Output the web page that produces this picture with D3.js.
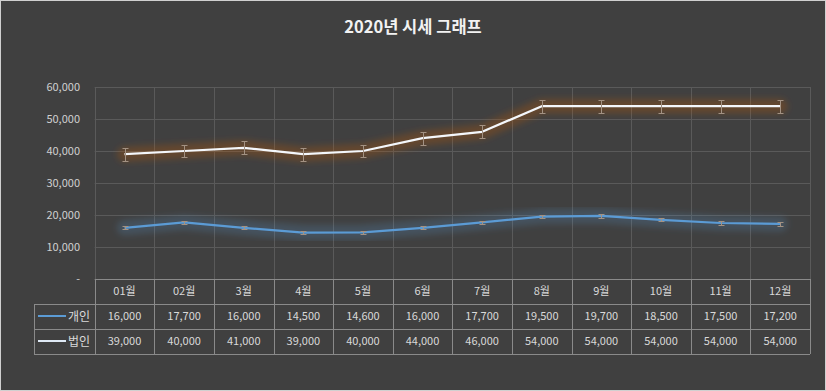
<!DOCTYPE html>
<html>
    <head>
        <meta charset="UTF-8">
        <title>2020년 시세 그래프</title>
        <script src="https://d3js.org/d3.v7.min.js"></script>
        <style>
            body {
                margin: 0;
                padding: 0;
                background: #404040;
            }
            svg { display: block; }
            text { font-family: "Noto Sans CJK KR", "Noto Sans", sans-serif; }
        </style>
    </head>
    <body>
        <div id="chart"></div>
        <script>
            // chart data
            var months = ["01월", "02월", "3월", "4월", "5월", "6월", "7월", "8월", "9월", "10월", "11월", "12월"];
            var personal = [16000, 17700, 16000, 14500, 14600, 16000, 17700, 19500, 19700, 18500, 17500, 17200];
            var corporate = [39000, 40000, 41000, 39000, 40000, 44000, 46000, 54000, 54000, 54000, 54000, 54000];
            var seriesNames = ["개인", "법인"];
            var yTicks = [0, 10000, 20000, 30000, 40000, 50000, 60000];

            var svgWidth = 826, svgHeight = 391;
            var margin = { top: 87, right: 16, bottom: 112, left: 94.7 };

            var svg = d3.select('#chart').append('svg')
                .attr('width', svgWidth)
                .attr('height', svgHeight);

            svg.append('rect')
                .attr('x', 0.5).attr('y', 0.5)
                .attr('width', svgWidth - 1).attr('height', svgHeight - 1)
                .attr('fill', '#404040')
                .attr('stroke', '#d0d0d0');

            // glow filter
            var defs = svg.append('defs');
            var glow = defs.append('filter').attr('id', 'glow')
                .attr('x', '-10%').attr('y', '-50%').attr('width', '120%').attr('height', '200%');
            glow.append('feGaussianBlur').attr('stdDeviation', 3);

            svg.append('text')
                .attr('x', 413).attr('y', 33)
                .attr('text-anchor', 'middle')
                .attr('fill', '#f2f2f2')
                .attr('font-size', 16.5)
                .attr('font-weight', 'bold')
                .text('2020년 시세 그래프');

            var x = d3.scaleBand().domain(months).range([margin.left, svgWidth - margin.right]);
            var y = d3.scaleLinear().domain([0, 60000]).range([svgHeight - margin.bottom, margin.top]);

            // gridlines
            var grid = svg.append('g').attr('stroke', '#5a5a5a').attr('stroke-width', 1);
            grid.selectAll('line.h')
                .data(yTicks.filter(d => d > 0))
                .join('line')
                .attr('x1', x.range()[0]).attr('x2', x.range()[1])
                .attr('y1', d => Math.round(y(d)) + 0.5).attr('y2', d => Math.round(y(d)) + 0.5);
            grid.selectAll('line.v')
                .data(months.concat(['end']))
                .join('line')
                .attr('x1', (d, i) => Math.round(x.range()[0] + i * x.bandwidth()) + 0.5)
                .attr('x2', (d, i) => Math.round(x.range()[0] + i * x.bandwidth()) + 0.5)
                .attr('y1', y(60000)).attr('y2', y(0));

            // y axis
            var yAxis = svg.append('g')
                .attr('transform', 'translate(80,0)')
                .call(d3.axisLeft(y).tickValues(yTicks).tickSize(0).tickPadding(0)
                    .tickFormat(d => d === 0 ? '-' : d3.format(',')(d)));
            yAxis.select('.domain').remove();
            yAxis.selectAll('text')
                .attr('fill', '#d0d0d0')
                .attr('font-size', 11)
                .style('font-family', '"Noto Sans CJK KR", sans-serif');

            var cx = d => x(d) + x.bandwidth() / 2;
            var series = [
                { name: seriesNames[0], values: personal, color: '#5b9bd5', glow: '#5b9bd5', glowOpacity: 0.2 },
                { name: seriesNames[1], values: corporate, color: '#f4f7fb', glow: '#c55a11', glowOpacity: 0.27 }
            ];

            var line = d3.line()
                .x((d, i) => cx(months[i]))
                .y(d => y(d));

            series.forEach(s => {
                svg.append('path')
                    .datum(s.values)
                    .attr('d', line)
                    .attr('fill', 'none')
                    .attr('stroke', s.glow)
                    .attr('stroke-opacity', s.glowOpacity)
                    .attr('stroke-width', 15)
                    .attr('stroke-linecap', 'round')
                    .attr('stroke-linejoin', 'round')
                    .attr('filter', 'url(#glow)');
            });

            series.forEach(s => {
                svg.append('path')
                    .datum(s.values)
                    .attr('d', line)
                    .attr('fill', 'none')
                    .attr('stroke', s.color)
                    .attr('stroke-width', 2.25)
                    .attr('stroke-linejoin', 'round');
                // standard error bars (same size for every point of a series)
                var se = d3.deviation(s.values) / Math.sqrt(s.values.length);
                var eb = svg.append('g').attr('stroke', '#a39283').attr('stroke-width', 1).attr('fill', 'none');
                s.values.forEach((v, i) => {
                    var px = Math.round(cx(months[i])) + 0.5;
                    var top = Math.round(y(v + se)) + 0.5, bot = Math.round(y(v - se)) + 0.5;
                    eb.append('path')
                        .attr('d', `M${px},${top}V${bot}M${px - 3},${top}H${px + 3}M${px - 3},${bot}H${px + 3}`);
                });
            });

            // data table
            var rowTop = y(0);
            var rowH = 25;
            var tableLeft = 34;
            var tbl = svg.append('g');
            var tblStroke = '#8a8a8a';
            var x0 = x.range()[0], x1 = x.range()[1];
            // horizontal borders
            tbl.append('line').attr('x1', x0).attr('x2', x1).attr('y1', rowTop + 0.5).attr('y2', rowTop + 0.5).attr('stroke', tblStroke);
            [1, 2, 3].forEach(r => {
                tbl.append('line').attr('x1', tableLeft).attr('x2', x1)
                    .attr('y1', Math.round(rowTop + r * rowH) + 0.5).attr('y2', Math.round(rowTop + r * rowH) + 0.5)
                    .attr('stroke', tblStroke);
            });
            // vertical borders
            tbl.append('line').attr('x1', tableLeft + 0.5).attr('x2', tableLeft + 0.5)
                .attr('y1', rowTop + rowH).attr('y2', rowTop + 3 * rowH).attr('stroke', tblStroke);
            months.concat(['end']).forEach((m, i) => {
                var xx = Math.round(x0 + i * x.bandwidth()) + 0.5;
                tbl.append('line').attr('x1', xx).attr('x2', xx)
                    .attr('y1', rowTop).attr('y2', rowTop + 3 * rowH).attr('stroke', tblStroke);
            });

            var fmt = d3.format(',');
            tbl.selectAll('text.m')
                .data(months)
                .join('text')
                .attr('x', d => cx(d))
                .attr('y', rowTop + rowH / 2)
                .attr('dy', '0.36em')
                .attr('text-anchor', 'middle')
                .attr('fill', '#d9d9d9')
                .attr('font-size', 11)
                .text(d => d);

            series.forEach((s, r) => {
                var ry = rowTop + (r + 1.5) * rowH;
                tbl.selectAll('text.v' + r)
                    .data(s.values)
                    .join('text')
                    .attr('x', (d, i) => cx(months[i]))
                    .attr('y', ry)
                    .attr('dy', '0.36em')
                    .attr('text-anchor', 'middle')
                    .attr('fill', '#d9d9d9')
                    .attr('font-size', 11)
                    .text(d => fmt(d));
                tbl.append('line')
                    .attr('x1', 38).attr('x2', 66)
                    .attr('y1', ry - 0.5).attr('y2', ry - 0.5)
                    .attr('stroke', r === 0 ? '#5b9bd5' : '#dfe9f5')
                    .attr('stroke-width', 2);
                tbl.append('text')
                    .attr('x', 90).attr('y', ry)
                    .attr('dy', '0.36em')
                    .attr('text-anchor', 'end')
                    .attr('fill', '#d9d9d9')
                    .attr('font-size', 12)
                    .text(s.name);
            });
        </script>
    </body>
</html>
